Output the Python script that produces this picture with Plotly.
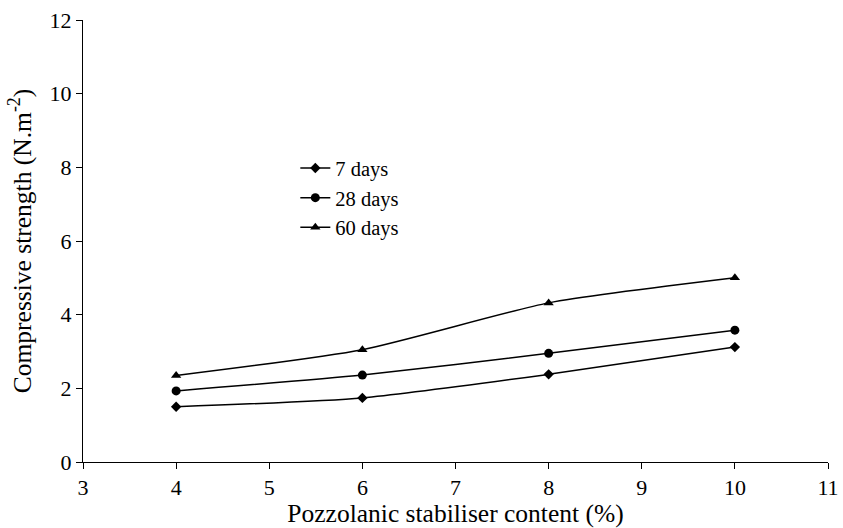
import plotly.graph_objects as go

content = [4, 6, 8, 10]
days7 = [1.50, 1.74, 2.38, 3.12]
days28 = [1.93, 2.36, 2.95, 3.58]
days60 = [2.35, 3.05, 4.32, 5.00]
series_names = ["7 days", "28 days", "60 days"]
x_ticks = [3, 4, 5, 6, 7, 8, 9, 10, 11]
y_ticks = [0, 2, 4, 6, 8, 10, 12]

font = "Liberation Serif, Times New Roman, serif"
fig = go.Figure()
for name, vals, sym, size in zip(series_names, [days7, days28, days60],
                                 ["diamond", "circle", "triangle-up"], [8, 9, 9]):
    fig.add_trace(go.Scatter(
        x=content, y=vals, name=name, mode="lines+markers",
        line=dict(color="black", width=1.5, shape="spline", smoothing=0.6),
        marker=dict(symbol=sym, size=size, color="black"),
    ))

axis_common = dict(showline=True, linecolor="black", linewidth=1, ticks="outside",
                   ticklen=6, tickcolor="black", showgrid=False, zeroline=False,
                   automargin=False,
                   tickfont=dict(family=font, size=22, color="black"))
fig.update_xaxes(range=[3, 11], tickvals=x_ticks,
                 title=dict(text="Pozzolanic stabiliser content (%)",
                            font=dict(family=font, size=25.5, color="black")),
                 **axis_common)
fig.update_yaxes(range=[0, 12], tickvals=y_ticks,
                 title=dict(text="Compressive strength (N.m<sup>-2</sup>)",
                            font=dict(family=font, size=25.5, color="black"),
                            standoff=10),
                 **axis_common)
fig.update_layout(
    width=843, height=528,
    margin=dict(l=83, r=15, t=20, b=66),
    plot_bgcolor="white", paper_bgcolor="white",
    font=dict(family=font, size=22, color="black"),
    legend=dict(x=0.285, y=0.71, xanchor="left", yanchor="top",
                bgcolor="rgba(0,0,0,0)", font=dict(family=font, size=20.5),
                itemwidth=30, tracegroupgap=0),
)
fig.write_html("out.html")
